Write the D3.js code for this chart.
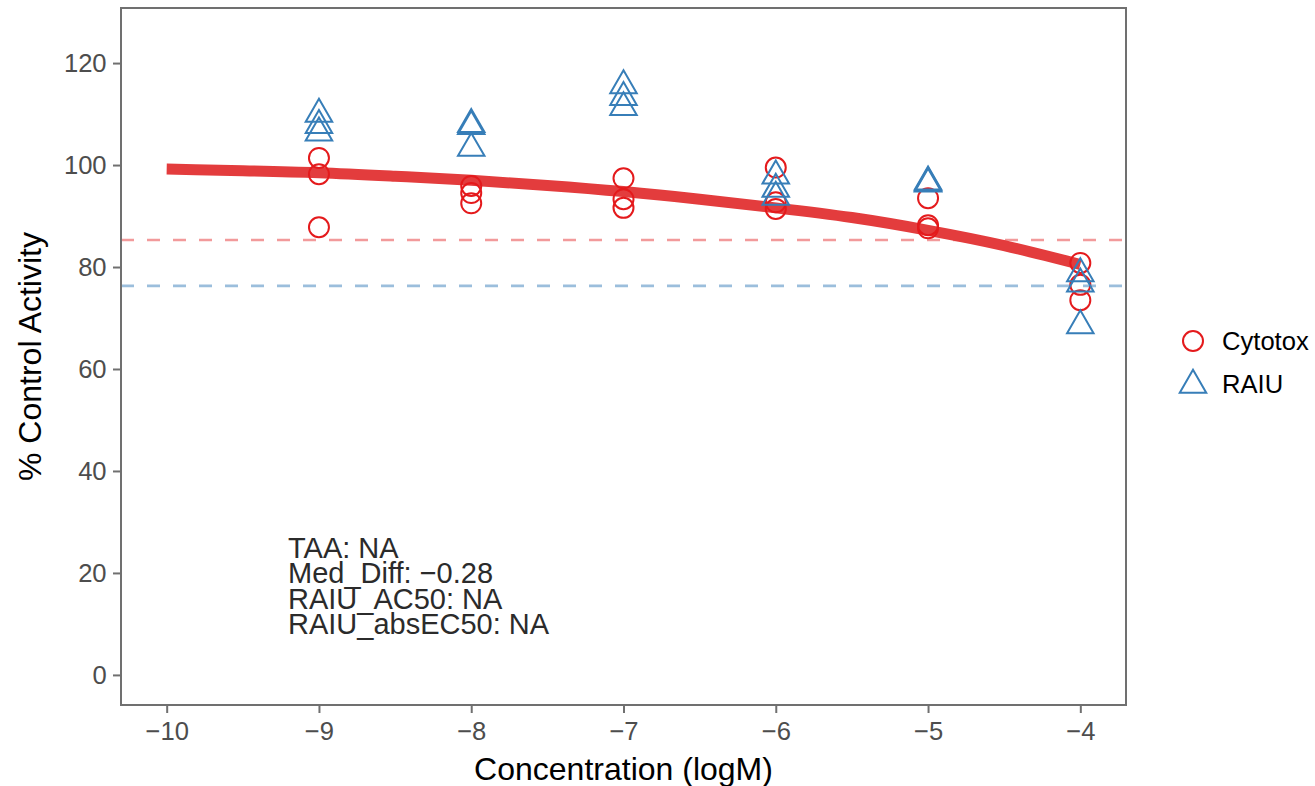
<!DOCTYPE html>
<html>
<head>
  <meta charset="utf-8">
  <title>conc-response</title>
  <style>
    * { margin: 0; padding: 0; }
    body { background: #fff; }
    svg { display: block; font-family: "Liberation Sans", Arial, sans-serif; }
  </style>
</head>
<body>
  <svg id="svg"></svg>
  <script src="https://cdnjs.cloudflare.com/ajax/libs/d3/7.8.5/d3.min.js"></script>
  <script>
    // concentrations (logM) with three replicates each
    const concentrations = [-9, -8, -7, -6, -5, -4];
    const cytotoxValues = [
      [101.4, 98.2, 87.8],
      [95.9, 94.5, 92.5],
      [97.4, 93.3, 91.6],
      [99.5, 92.7, 91.4],
      [93.5, 88.2, 87.6],
      [80.8, 76.5, 73.5]
    ];
    const raiuValues = [
      [110.0, 107.8, 106.3],
      [108.0, 107.6, 103.3],
      [115.6, 113.3, 111.3],
      [97.9, 95.3, 93.7],
      [96.7, 96.5, 96.3],
      [78.7, 76.7, 68.5]
    ];
    // fitted cytotox curve
    const curveX = [-10, -9.5, -9, -8.5, -8, -7.5, -7, -6.5, -6, -5.5, -5, -4.5, -4];
    const curveY = [99.2, 98.9, 98.5, 97.8, 97.0, 96.0, 94.8, 93.3, 91.6, 89.7, 87.2, 84.2, 80.5];
    const cytotoxCutoff = 85.3;
    const raiuCutoff = 76.3;
    const xTicks = [-10, -9, -8, -7, -6, -5, -4];
    const yTicks = [0, 20, 40, 60, 80, 100, 120];
    const seriesNames = ['Cytotox', 'RAIU'];
    const annotation = ['TAA: NA', 'Med_Diff: \u22120.28', 'RAIU_AC50: NA', 'RAIU_absEC50: NA'];

    const width = 1315, height = 786;
    const panel = { left: 121, right: 1126, top: 8, bottom: 705 };
    const red = '#E41A1C', blue = '#377EB8';
    const tickFont = 25.6;

    const svg = d3.select('#svg').attr('width', width).attr('height', height);

    const x = d3.scaleLinear().domain([-10.3, -3.7]).range([panel.left, panel.right]);
    const y = d3.scaleLinear().domain([-5.9, 130.8]).range([panel.bottom, panel.top]);

    // dashed cutoffs
    svg.append('line')
      .attr('x1', panel.left).attr('x2', panel.right)
      .attr('y1', y(cytotoxCutoff)).attr('y2', y(cytotoxCutoff))
      .attr('stroke', '#F29A9B').attr('stroke-width', 2.6).attr('stroke-dasharray', '13,13');
    svg.append('line')
      .attr('x1', panel.left).attr('x2', panel.right)
      .attr('y1', y(raiuCutoff)).attr('y2', y(raiuCutoff))
      .attr('stroke', '#9BBEDC').attr('stroke-width', 2.6).attr('stroke-dasharray', '13,13');

    // curve
    const curveData = curveX.map((c, i) => [c, curveY[i]]);
    svg.append('path')
      .datum(curveData)
      .attr('fill', 'none')
      .attr('stroke', '#E33C3D')
      .attr('stroke-width', 11)
      .attr('d', d3.line().x(d => x(d[0])).y(d => y(d[1])).curve(d3.curveNatural));

    const circleR = 10;
    const triR = 15.3;
    const triangle = (cx, cy) => {
      const xc = triR * 0.866;
      return `M${cx},${cy - triR}L${cx + xc},${cy + triR / 2}L${cx - xc},${cy + triR / 2}Z`;
    };

    const flat = (vals) => concentrations.flatMap((c, i) => vals[i].map(v => ({ c, v })));

    svg.append('g').selectAll('circle')
      .data(flat(cytotoxValues)).enter()
      .append('circle')
      .attr('cx', d => x(d.c)).attr('cy', d => y(d.v)).attr('r', circleR)
      .attr('fill', 'none').attr('stroke', red).attr('stroke-width', 2);

    svg.append('g').selectAll('path')
      .data(flat(raiuValues)).enter()
      .append('path')
      .attr('d', d => triangle(x(d.c), y(d.v)))
      .attr('fill', 'none').attr('stroke', blue).attr('stroke-width', 2);

    // annotation
    const ann = svg.append('text')
      .attr('x', 288).attr('y', 558)
      .attr('font-size', 29).attr('fill', '#2b2b2b');
    annotation.forEach((t, i) => {
      ann.append('tspan').attr('x', 288).attr('dy', i === 0 ? 0 : 25.3).text(t);
    });

    // axes
    const xAxis = d3.axisBottom(x).tickValues(xTicks).tickFormat(d3.format('d')).tickSize(8).tickPadding(9);
    const yAxis = d3.axisLeft(y).tickValues(yTicks).tickFormat(d3.format('d')).tickSize(8).tickPadding(6.4);

    const gx = svg.append('g').attr('transform', `translate(0,${panel.bottom})`).call(xAxis);
    const gy = svg.append('g').attr('transform', `translate(${panel.left},0)`).call(yAxis);
    [gx, gy].forEach(g => {
      g.select('.domain').remove();
      g.selectAll('line').attr('stroke', '#707070').attr('stroke-width', 2);
      g.selectAll('text').attr('fill', '#4D4D4D').attr('font-size', tickFont)
        .attr('font-family', '"Liberation Sans", Arial, sans-serif');
    });

    // panel border
    svg.append('rect')
      .attr('x', panel.left).attr('y', panel.top)
      .attr('width', panel.right - panel.left).attr('height', panel.bottom - panel.top)
      .attr('fill', 'none').attr('stroke', '#707070').attr('stroke-width', 2);

    // axis titles
    svg.append('text')
      .attr('x', (panel.left + panel.right) / 2).attr('y', 780)
      .attr('text-anchor', 'middle').attr('font-size', 32).attr('fill', '#000')
      .text('Concentration (logM)');
    svg.append('text')
      .attr('transform', `translate(41,${(panel.top + panel.bottom) / 2}) rotate(-90)`)
      .attr('text-anchor', 'middle').attr('font-size', 32).attr('fill', '#000')
      .text('% Control Activity');

    // legend
    const legend = svg.append('g').attr('transform', 'translate(1193,0)');
    const keyY = [341, 384];
    legend.append('circle')
      .attr('cx', 0).attr('cy', keyY[0]).attr('r', circleR)
      .attr('fill', 'none').attr('stroke', red).attr('stroke-width', 2);
    legend.append('path')
      .attr('d', triangle(0, keyY[1] + 1))
      .attr('fill', 'none').attr('stroke', blue).attr('stroke-width', 2);
    seriesNames.forEach((n, i) => {
      legend.append('text')
        .attr('x', 29).attr('y', keyY[i]).attr('dy', '0.36em')
        .attr('font-size', tickFont).attr('fill', '#000')
        .text(n);
    });
  </script>
</body>
</html>
